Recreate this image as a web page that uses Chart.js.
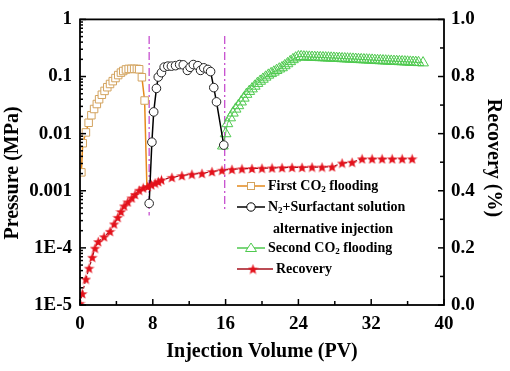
<!DOCTYPE html>
<html>
<head>
<meta charset="utf-8">
<script src="https://cdn.jsdelivr.net/npm/chart.js@4.4.1/dist/chart.umd.min.js"></script>
<style>
  body { margin: 0; background: #fff; }
  #wrap { width: 510px; height: 371px; }
</style>
</head>
<body>
<div id="wrap"><canvas id="floodChart" width="510" height="371"></canvas></div>
<script>
// values
const firstCO2X = [0.15, 0.3, 0.65, 0.95, 1.25, 1.55, 1.85, 2.1, 2.4, 2.7, 3.0, 3.3, 3.6, 3.9, 4.2, 4.5, 4.75, 5.05, 5.35, 5.65, 5.95, 6.25, 6.5, 6.8, 7.1, 7.35];
const firstCO2P = [0.0021, 0.0068, 0.0105, 0.0155, 0.021, 0.027, 0.033, 0.040, 0.048, 0.056, 0.065, 0.074, 0.083, 0.094, 0.106, 0.117, 0.125, 0.133, 0.136, 0.136, 0.136, 0.136, 0.134, 0.097, 0.038, 0.0012];

const altInjX = [7.6, 7.9, 8.1, 8.4, 8.6, 8.95, 9.25, 9.65, 10.05, 10.5, 10.95, 11.35, 11.8, 12.1, 12.45, 12.95, 13.25, 13.6, 14.05, 14.35, 14.7, 15.0, 15.8];
const altInjP = [0.0006, 0.0071, 0.024, 0.062, 0.098, 0.117, 0.146, 0.152, 0.152, 0.155, 0.162, 0.16, 0.128, 0.145, 0.162, 0.155, 0.128, 0.142, 0.133, 0.122, 0.064, 0.036, 0.0063];

const secondCO2X = [15.7, 16.0, 16.2, 16.5, 16.8, 17.1, 17.4, 17.7, 18.0, 18.3, 18.6, 18.9, 19.2, 19.5, 19.8, 20.1, 20.4, 20.7, 21.0, 21.3, 21.6, 21.9, 22.2, 22.5, 22.8, 23.1, 23.4, 23.7, 24.0, 24.3,
  24.6, 24.9, 25.2, 25.5, 25.8, 26.1, 26.4, 26.7, 27.0, 27.3, 27.6, 27.9, 28.2, 28.5, 28.8, 29.1, 29.4, 29.7, 30.0, 30.3, 30.6, 30.9, 31.2, 31.5, 31.8, 32.1, 32.4, 32.7, 33.0, 33.3, 33.6, 33.9, 34.2, 34.5, 34.8, 35.1, 35.4, 35.7, 36.0, 36.3, 36.6, 36.9, 37.2, 37.7];
const secondCO2P = [0.0061, 0.0100, 0.0150, 0.019, 0.023, 0.027, 0.031, 0.036, 0.042, 0.049, 0.055, 0.061, 0.068, 0.076, 0.083, 0.090, 0.098, 0.106, 0.113, 0.120, 0.128, 0.136, 0.143, 0.155, 0.168, 0.183, 0.198, 0.212, 0.222, 0.224,
  0.221, 0.220, 0.219, 0.218, 0.217, 0.216, 0.215, 0.214, 0.213, 0.212, 0.211, 0.210, 0.209, 0.208, 0.206, 0.205, 0.204, 0.203, 0.202, 0.201, 0.199, 0.198, 0.197, 0.196, 0.195, 0.194, 0.192, 0.191, 0.190, 0.189, 0.188, 0.187, 0.186, 0.185, 0.184, 0.183, 0.182, 0.181, 0.180, 0.179, 0.178, 0.177, 0.176, 0.174];

const recoveryX = [0, 0.25, 0.65, 1.0, 1.35, 1.65, 2.0, 2.65, 3.3, 3.75, 4.15, 4.5, 4.85, 5.25, 5.7, 6.05, 6.5, 6.95, 7.45, 7.85, 8.25, 8.6, 8.95, 10.1, 11.2, 12.3, 13.4, 14.5, 15.6, 16.7, 17.8, 18.9, 20.0, 21.1, 22.2, 23.3, 24.4, 25.5, 26.6, 27.7, 28.8, 29.9, 31.0, 32.1, 33.2, 34.3, 35.4, 36.5];
const recoveryY = [0.006, 0.04, 0.091, 0.129, 0.167, 0.199, 0.222, 0.239, 0.258, 0.284, 0.307, 0.327, 0.347, 0.361, 0.375, 0.387, 0.402, 0.41, 0.415, 0.421, 0.427, 0.432, 0.438, 0.447, 0.453, 0.458, 0.461, 0.467, 0.472, 0.475, 0.477, 0.478, 0.479, 0.48, 0.481, 0.482, 0.482, 0.483, 0.483, 0.484, 0.497, 0.5, 0.512, 0.512, 0.512, 0.512, 0.512, 0.512];

// stage boundaries (dash-dot lines)
const boundaryX = [7.6, 15.9];
const boundaryTop = [0.51, 0.51];
const boundaryBottom = [0.00037, 0.00047];

const pressureTicks = [1e-5, 1e-4, 0.001, 0.01, 0.1, 1];
const pressureTickLabels = ["1E-5", "1E-4", "0.001", "0.01", "0.1", "1"];

const SERIF = '"Liberation Serif", "Times New Roman", serif';
const ORANGE_MK = "#d3a35e";
const ORANGE_LN = "#e58a1c";
const GREEN = "#4fc94f";
const RED = "#e3111b";
const DARK_RED = "#a5101c";
const MAGENTA = "#c64fcf";

const pts = (xs, ys) => xs.map((x, i) => ({ x: x, y: ys[i] }));

// filled 5 point star used as point style
function makeStar(size, color) {
  const c = document.createElement("canvas");
  c.width = size;
  c.height = size;
  const g = c.getContext("2d");
  const R = size / 2, r = R * 0.42;
  g.beginPath();
  for (let i = 0; i < 10; i++) {
    const rad = i % 2 === 0 ? R : r;
    const a = -Math.PI / 2 + (i * Math.PI) / 5;
    g.lineTo(R + rad * Math.cos(a), R + 0.6 + rad * Math.sin(a));
  }
  g.closePath();
  g.fillStyle = color;
  g.fill();
  return c;
}
const starImg = makeStar(11, RED);

function drawRich(ctx, parts, x, y, size) {
  let cx = x;
  parts.forEach((p) => {
    const s = p.sub ? Math.round(size * 0.62) : size;
    ctx.font = "bold " + s + "px " + SERIF;
    ctx.fillText(p.t, cx, p.sub ? y + size * 0.28 : y);
    cx += ctx.measureText(p.t).width;
  });
}

const legendItems = [
  { y: 186, parts: [{ t: "First CO" }, { t: "2", sub: true }, { t: " flooding" }], kind: "square" },
  { y: 207, parts: [{ t: "N" }, { t: "2", sub: true }, { t: "+Surfactant solution" }], kind: "circle" },
  { y: 229, parts: [{ t: "alternative injection" }], kind: null, indent: 5 },
  { y: 248, parts: [{ t: "Second CO" }, { t: "2", sub: true }, { t: " flooding" }], kind: "triangle" },
  { y: 269, parts: [{ t: "Recovery" }], kind: "star" },
];

const decorPlugin = {
  id: "decor",
  afterDraw(chart) {
    const { ctx, chartArea: a, scales } = chart;
    ctx.save();
    ctx.strokeStyle = "#000";
    ctx.lineWidth = 1.5;
    const seg = (x1, y1, x2, y2) => {
      ctx.beginPath();
      ctx.moveTo(x1, y1);
      ctx.lineTo(x2, y2);
      ctx.stroke();
    };
    // bottom ticks
    for (let v = 0; v <= 40; v += 4) {
      const px = scales.x.getPixelForValue(v);
      seg(px, a.bottom, px, a.bottom - (v % 8 === 0 ? 6 : 4));
    }
    // left log ticks
    pressureTicks.forEach((d) => {
      const py = scales.y.getPixelForValue(d);
      seg(a.left, py, a.left + 6, py);
      if (d < 1) {
        for (let k = 2; k <= 9; k++) {
          const my = scales.y.getPixelForValue(k * d);
          seg(a.left, my, a.left + 3, my);
        }
      }
    });
    // right ticks
    for (let i = 0; i <= 10; i++) {
      const py = scales.y2.getPixelForValue(i / 10);
      seg(a.right, py, a.right - (i % 2 === 0 ? 6 : 4), py);
    }
    // frame
    ctx.lineWidth = 1.8;
    ctx.strokeRect(a.left, a.top, a.right - a.left, a.bottom - a.top);

    // axis titles
    ctx.fillStyle = "#000";
    ctx.textAlign = "center";
    ctx.textBaseline = "middle";
    ctx.font = "bold 20px " + SERIF;
    ctx.fillText("Injection Volume (PV)", (a.left + a.right) / 2, 352);
    ctx.save();
    ctx.translate(13, 173);
    ctx.rotate(-Math.PI / 2);
    ctx.fillText("Pressure (MPa)", 0, 0);
    ctx.restore();
    ctx.save();
    ctx.translate(493, 158);
    ctx.rotate(Math.PI / 2);
    ctx.fillText("Recovery (%)", 0, 0);
    ctx.restore();

    // legend
    ctx.textAlign = "left";
    legendItems.forEach((it) => {
      const y = it.y;
      if (it.kind) {
        const lineEnd = it.kind === "star" ? 273 : 265;
        ctx.setLineDash([]);
        ctx.lineWidth = 1.5;
        ctx.strokeStyle = { square: ORANGE_LN, circle: "#000", triangle: GREEN, star: DARK_RED }[it.kind];
        seg(237, y, lineEnd, y);
        const mx = it.kind === "star" ? 253 : 251;
        ctx.lineWidth = 1;
        ctx.fillStyle = "#fff";
        if (it.kind === "square") {
          ctx.strokeStyle = ORANGE_MK;
          ctx.fillRect(mx - 3.5, y - 3.5, 7, 7);
          ctx.strokeRect(mx - 3.5, y - 3.5, 7, 7);
        } else if (it.kind === "circle") {
          ctx.beginPath();
          ctx.arc(mx, y, 4.2, 0, Math.PI * 2);
          ctx.fill();
          ctx.stroke();
        } else if (it.kind === "triangle") {
          ctx.strokeStyle = GREEN;
          ctx.beginPath();
          ctx.moveTo(mx, y - 5);
          ctx.lineTo(mx + 5.5, y + 3.5);
          ctx.lineTo(mx - 5.5, y + 3.5);
          ctx.closePath();
          ctx.fill();
          ctx.stroke();
        } else {
          ctx.drawImage(starImg, mx - 5.5, y - 5.5);
        }
      }
      ctx.fillStyle = "#000";
      const tx = it.kind === "star" ? 276 : 268 + (it.indent || 0);
      drawRich(ctx, it.parts, tx, y, 14);
    });
    ctx.restore();
  },
};

const tickFont = { family: SERIF, size: 19, weight: "bold" };

const datasets = [
  {
    label: "Recovery",
    data: pts(recoveryX, recoveryY),
    yAxisID: "y2",
    borderColor: DARK_RED,
    borderWidth: 1.2,
    borderDash: [3, 2],
    pointStyle: starImg,
    pointRadius: 5,
  },
  {
    label: "N2+Surfactant solution alternative injection",
    data: pts(altInjX, altInjP),
    yAxisID: "y",
    borderColor: "#000",
    borderWidth: 1.5,
    pointStyle: "circle",
    pointRadius: 4.3,
    pointBorderWidth: 1,
    pointBorderColor: "#222",
    pointBackgroundColor: "#fff",
  },
  {
    label: "First CO2 flooding",
    data: pts(firstCO2X, firstCO2P),
    yAxisID: "y",
    borderColor: ORANGE_LN,
    borderWidth: 1.5,
    pointStyle: "rect",
    pointRadius: firstCO2X.map((x, i) => (i === firstCO2X.length - 1 ? 0 : 5.3)),
    pointBorderWidth: 1,
    pointBorderColor: ORANGE_MK,
    pointBackgroundColor: "#fff",
  },
  {
    label: "Second CO2 flooding",
    data: pts(secondCO2X, secondCO2P),
    yAxisID: "y",
    borderColor: GREEN,
    borderWidth: 1,
    pointStyle: "triangle",
    pointRadius: 6.2,
    pointBorderWidth: 1,
    pointBorderColor: GREEN,
    pointBackgroundColor: "rgba(255,255,255,0)",
  },
];

boundaryX.forEach((bx, i) => {
  datasets.push({
    label: "boundary" + i,
    data: [{ x: bx, y: boundaryTop[i] }, { x: bx, y: boundaryBottom[i] }],
    yAxisID: "y",
    borderColor: MAGENTA,
    borderWidth: 1.3,
    borderDash: [8, 3, 2, 3],
    pointRadius: 0,
  });
});

const config = {
  type: "line",
  data: { datasets: datasets },
  options: {
    responsive: false,
    animation: false,
    devicePixelRatio: 1,
    layout: { padding: { top: 12, left: 0, right: 0, bottom: 0 } },
    plugins: { legend: { display: false }, tooltip: { enabled: false } },
    elements: { line: { tension: 0 } },
    scales: {
      x: {
        type: "linear",
        min: 0,
        max: 40,
        afterFit: (s) => { s.height = 66; },
        grid: { display: false, drawTicks: false },
        border: { display: false },
        ticks: { stepSize: 8, padding: 8, color: "#000", font: tickFont },
      },
      y: {
        type: "logarithmic",
        position: "left",
        min: 1e-5,
        max: 1,
        afterFit: (s) => { s.width = 80; },
        afterBuildTicks: (s) => { s.ticks = pressureTicks.map((v) => ({ value: v })); },
        grid: { display: false, drawTicks: false },
        border: { display: false },
        ticks: {
          padding: 8,
          color: "#000",
          font: tickFont,
          callback: (v) => pressureTickLabels[pressureTicks.indexOf(v)] || "",
        },
      },
      y2: {
        type: "linear",
        position: "right",
        min: 0,
        max: 1,
        afterFit: (s) => { s.width = 66; },
        grid: { display: false, drawTicks: false },
        border: { display: false },
        ticks: { stepSize: 0.2, padding: 7, color: "#000", font: tickFont, callback: (v) => v.toFixed(1) },
      },
    },
  },
  plugins: [decorPlugin],
};

const floodChart = new Chart(document.getElementById("floodChart"), config);
</script>
</body>
</html>
